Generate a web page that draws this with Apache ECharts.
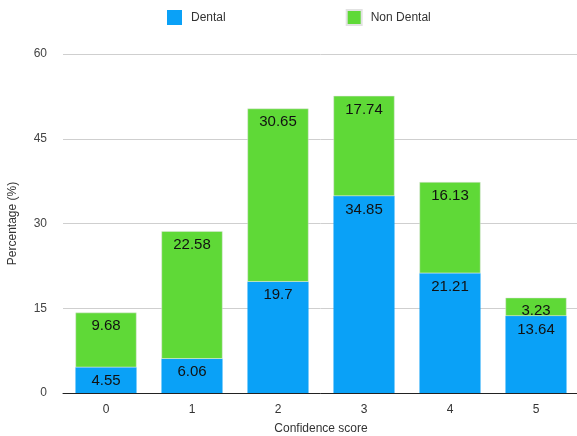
<!DOCTYPE html>
<html>
<head>
<meta charset="utf-8">
<script src="https://cdn.jsdelivr.net/npm/echarts@6/dist/echarts.min.js"></script>
<style>
html,body{margin:0;padding:0;background:#fff;}
#chart{width:577px;height:436px;}
</style>
</head>
<body>
<div id="chart"></div>
<script>
// Confidence score categories and the percentage share per group
const categories = ['0', '1', '2', '3', '4', '5'];
const dental = [4.55, 6.06, 19.7, 34.85, 21.21, 13.64];
const nonDental = [9.68, 22.58, 30.65, 17.74, 16.13, 3.23];
const yTicks = [0, 15, 30, 45, 60];

const font = 'Helvetica, "Liberation Sans", Arial, sans-serif';
const chart = echarts.init(document.getElementById('chart'));

const labelStyle = {
  show: true,
  position: 'insideTop',
  distance: 6,
  color: '#111',
  fontSize: 15,
  fontFamily: font
};

chart.setOption({
  animation: false,
  legend: {
    top: 4,
    left: 162,
    itemWidth: 15,
    itemHeight: 15,
    itemGap: 120,
    icon: 'rect',
    textStyle: { color: '#333', fontSize: 12, fontFamily: font, padding: [0, 0, 0, 4] },
    data: ['Dental', 'Non Dental']
  },
  grid: { left: 63, right: -2, top: 54, bottom: 43, containLabel: false, outerBoundsMode: 'none' },
  xAxis: {
    type: 'category',
    data: categories,
    name: 'Confidence score',
    nameLocation: 'middle',
    nameGap: 30,
    nameTextStyle: { color: '#333', fontSize: 12, fontFamily: font },
    axisLine: { show: true, lineStyle: { color: '#222', width: 1 } },
    axisTick: { show: false },
    axisLabel: { color: '#333', fontSize: 12, fontFamily: font, margin: 11 }
  },
  yAxis: {
    type: 'value',
    min: yTicks[0],
    max: yTicks[yTicks.length - 1],
    interval: 15,
    name: 'Percentage (%)',
    nameLocation: 'middle',
    nameGap: 44,
    nameRotate: 90,
    nameTextStyle: { color: '#333', fontSize: 12, fontFamily: font },
    axisLine: { show: false },
    axisTick: { show: false },
    axisLabel: { color: '#444', fontSize: 12, fontFamily: font, margin: 16 },
    splitLine: { lineStyle: { color: '#cfcfcf', width: 1 } }
  },
  series: [
    {
      name: 'Dental',
      type: 'bar',
      stack: 'total',
      barWidth: '71%',
      data: dental,
      itemStyle: { color: '#0aa1f7' },
      label: labelStyle
    },
    {
      name: 'Non Dental',
      type: 'bar',
      stack: 'total',
      barWidth: '71%',
      data: nonDental,
      itemStyle: { color: '#5fd937', borderColor: '#e2e2e2', borderWidth: 0.5 },
      label: labelStyle
    }
  ]
});
</script>
</body>
</html>
